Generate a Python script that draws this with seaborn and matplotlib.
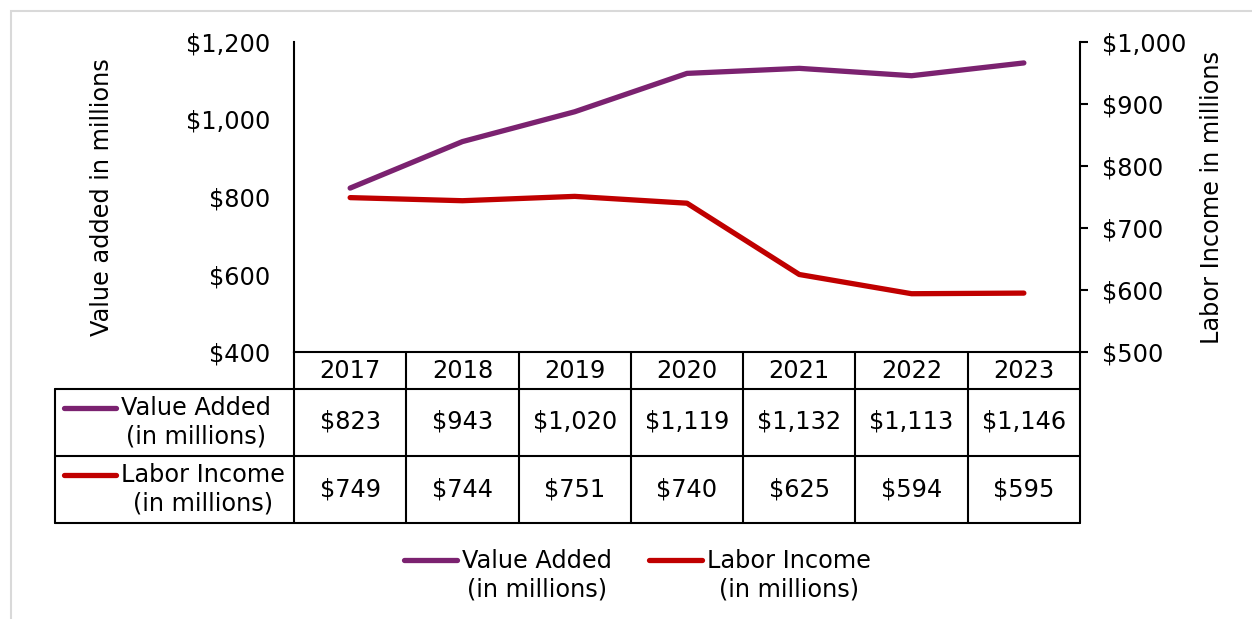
import numpy as np
import pandas as pd
import matplotlib
matplotlib.use("Agg")
import matplotlib.pyplot as plt
import seaborn as sns
from matplotlib.lines import Line2D
from matplotlib.patches import Rectangle
from matplotlib.transforms import blended_transform_factory

# data
years = [2017, 2018, 2019, 2020, 2021, 2022, 2023]
value_added = [823, 943, 1020, 1119, 1132, 1113, 1146]
labor_income = [749, 744, 751, 740, 625, 594, 595]
series_names = ["Value Added\n(in millions)", "Labor Income\n(in millions)"]
left_ticks = [400, 600, 800, 1000, 1200]
right_ticks = [500, 600, 700, 800, 900, 1000]

PURPLE = "#7B2270"
RED = "#C00000"
FS = 17.3

sns.set_style("white")
plt.rcParams["font.family"] = ["DejaVu Sans"]
plt.rcParams["text.color"] = "black"
plt.rcParams["axes.labelcolor"] = "black"
plt.rcParams["xtick.color"] = "black"
plt.rcParams["ytick.color"] = "black"

W, H = 1252, 619
fig = plt.figure(figsize=(W / 100, H / 100), dpi=100)


def fx(px):
    return px / W


def fy(py):
    return 1 - py / H


# outer light frame
fig.add_artist(Rectangle((fx(11), fy(640)), fx(1260) - fx(11), fy(11) - fy(640),
                         transform=fig.transFigure, fill=False, edgecolor="#d9d9d9", lw=1.5))

ax = fig.add_axes([fx(294), fy(352), fx(1080) - fx(294), fy(42) - fy(352)])
df = pd.DataFrame({"year": years, "va": value_added, "li": labor_income})

# ==========================================
# left axis: value added
# ==========================================
sns.lineplot(data=df, x="year", y="va", ax=ax, color=PURPLE, linewidth=3.8,
             solid_capstyle="round")
ax.set_xlim(years[0] - 0.5, years[-1] + 0.5)
ax.set_ylim(left_ticks[0], left_ticks[-1])
ax.set_yticks(left_ticks)
ax.set_yticklabels([f"${v:,}" for v in left_ticks], fontsize=FS)
ax.tick_params(axis="y", length=0, pad=17)
ax.set_xticks([])
ax.set_xlabel("")
ax.set_ylabel("Value added in millions", fontsize=FS)
for s in ["top", "right"]:
    ax.spines[s].set_visible(False)
for s in ["left", "bottom"]:
    ax.spines[s].set_color("black")
    ax.spines[s].set_linewidth(1.5)

# ==========================================
# right axis: labor income
# ==========================================
ax2 = ax.twinx()
sns.lineplot(data=df, x="year", y="li", ax=ax2, color=RED, linewidth=3.8,
             solid_capstyle="round")
ax2.set_ylim(right_ticks[0], right_ticks[-1])
ax2.set_yticks(right_ticks)
ax2.set_yticklabels([f"${v:,}" for v in right_ticks], fontsize=FS)
ax2.tick_params(axis="y", length=6, width=1.5, pad=10, direction="out")
ax2.set_ylabel("Labor Income in millions", fontsize=FS)
ax2.set_xlabel("")
for s in ["top", "left", "bottom"]:
    ax2.spines[s].set_visible(False)
ax2.spines["right"].set_color("black")
ax2.spines["right"].set_linewidth(1.5)

# place axis labels
axw = fx(1080) - fx(294)
ax.yaxis.set_label_coords((fx(114) - fx(294)) / axw, 0.5)
ax2.yaxis.set_label_coords((fx(1200) - fx(294)) / axw, 0.5)

# ==========================================
# data table below the plot
# ==========================================
bt = blended_transform_factory(ax.transData, fig.transFigure)
lw = 1.5
for y in years:
    fig.add_artist(Line2D([y - 0.5, y - 0.5], [fy(352), fy(523)], transform=bt,
                          color="black", lw=lw))
    fig.text(y, fy(371), str(y), transform=bt, ha="center", va="center", fontsize=FS)
fig.add_artist(Line2D([years[-1] + 0.5] * 2, [fy(352), fy(523)], transform=bt,
                      color="black", lw=lw))
for py in [389, 456, 523]:
    fig.add_artist(Line2D([fx(55), fx(1080)], [fy(py), fy(py)], transform=fig.transFigure,
                          color="black", lw=lw))
fig.add_artist(Line2D([fx(55), fx(55)], [fy(389), fy(523)], transform=fig.transFigure,
                      color="black", lw=lw))

rows = [(value_added, PURPLE, 422), (labor_income, RED, 489)]
for (vals, col, cy), name in zip(rows, series_names):
    fig.add_artist(Line2D([fx(64), fx(116)], [fy(cy - 14), fy(cy - 14)],
                          transform=fig.transFigure, color=col, lw=3.8,
                          solid_capstyle="round"))
    fig.text(fx(121), fy(cy), name, ha="left", va="center", multialignment="center",
             fontsize=FS, linespacing=1.25)
    for y, v in zip(years, vals):
        fig.text(y, fy(cy), f"${v:,}", transform=bt, ha="center", va="center", fontsize=FS)

# bottom legend
for (key_x, col), name in zip([(403, PURPLE), (648, RED)], series_names):
    fig.add_artist(Line2D([fx(key_x + 1), fx(key_x + 54)], [fy(560), fy(560)],
                          transform=fig.transFigure, color=col, lw=3.8,
                          solid_capstyle="round"))
    fig.text(fx(key_x + 59), fy(575), name, ha="left", va="center",
             multialignment="center", fontsize=FS, linespacing=1.25)

plt.savefig("out.png", dpi=100)
